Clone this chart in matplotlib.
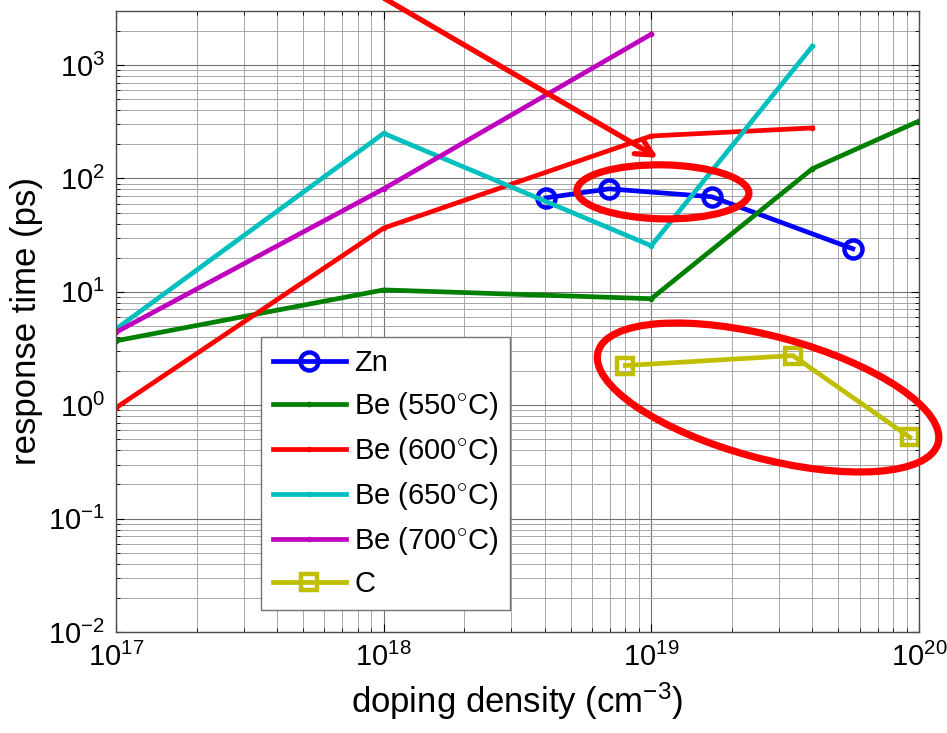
import numpy as np
import matplotlib
matplotlib.use('Agg')
import matplotlib.pyplot as plt
from matplotlib.patches import Ellipse
from matplotlib.transforms import ScaledTranslation

plt.rcParams['font.family'] = ['Liberation Sans', 'DejaVu Sans']
plt.rcParams['mathtext.fontset'] = 'custom'
plt.rcParams['mathtext.rm'] = 'Liberation Sans'
plt.rcParams['mathtext.it'] = 'Liberation Sans:italic'
plt.rcParams['mathtext.bf'] = 'Liberation Sans:bold'

# response time vs doping density for each dopant / growth temperature
zn_x = [4.04e18, 6.95e18, 1.68e19, 5.66e19]
zn_y = [67.5, 81, 69, 24]

be550_x = [1e17, 1e18, 1e19, 4e19, 1e20]
be550_y = [3.7, 10.4, 8.7, 122, 321]

be600_x = [1e17, 1e18, 1e19, 4e19]
be600_y = [0.95, 36.5, 237, 279]

be650_x = [1e17, 1e18, 1e19, 4e19]
be650_y = [4.7, 250, 25.5, 1470]

be700_x = [1e17, 1e18, 1e19]
be700_y = [4.4, 81, 1875]

c_x = [8.0e18, 3.38e19, 9.25e19]
c_y = [2.24, 2.74, 0.52]

fig = plt.figure(figsize=(9.47, 7.33), dpi=100)
ax = fig.add_axes([0.1225, 0.1378, 0.8479, 0.8472])

lw = 3.4
ax.plot(zn_x, zn_y, ls='-', marker='o', color=(0, 0, 1), lw=lw, ms=13, mew=3.2, mfc='none', label='Zn')
ax.plot(be550_x, be550_y, ls='-', marker='.', color=(0, 0.5, 0), lw=lw, ms=6, label='Be (550$^{\\circ}$C)')
ax.plot(be600_x, be600_y, ls='-', marker='.', color=(1, 0, 0), lw=lw, ms=6, label='Be (600$^{\\circ}$C)')
ax.plot(be650_x, be650_y, ls='-', marker='.', color=(0, 0.75, 0.75), lw=lw, ms=6, label='Be (650$^{\\circ}$C)')
ax.plot(be700_x, be700_y, ls='-', marker='.', color=(0.75, 0, 0.75), lw=lw, ms=6, label='Be (700$^{\\circ}$C)')
ax.plot(c_x, c_y, ls='-', marker='s', color=(0.75, 0.75, 0), lw=lw, ms=11, mew=3.2, mfc='none', label='C')

ax.set_xscale('log')
ax.set_yscale('log')
ax.set_xlim(1e17, 1e20)
ax.set_ylim(1e-2, 3e3)
ax.set_yticks([1e-2, 1e-1, 1e0, 1e1, 1e2, 1e3])

ax.grid(True, which='major', color='0.45', lw=0.8)
ax.grid(True, which='minor', color='0.65', lw=0.7)
ax.tick_params(which='both', direction='in', top=True, right=True, labelsize=21, pad=8)
ax.tick_params(which='major', length=6)
ax.tick_params(which='minor', length=3)
for s in ax.spines.values():
    s.set_color('0.3')
    s.set_linewidth(1.0)

ax.set_xlabel('doping density (cm$^{-3}$)', fontsize=25, labelpad=6)
ax.set_ylabel('response time (ps)', fontsize=25, labelpad=4)

leg = ax.legend(loc='lower left', bbox_to_anchor=(0.1806, 0.0354), borderaxespad=0,
                fontsize=21, framealpha=1, fancybox=False, edgecolor='0.45',
                handlelength=2.5, labelspacing=0.45, borderpad=0.4, handletextpad=0.3)
leg.get_frame().set_linewidth(1.0)

# highlight rings and arrow, sized in inches around a data-space centre
def ring(cx, cy, w, h, angle):
    tr = fig.dpi_scale_trans + ScaledTranslation(cx, cy, ax.transData)
    e = Ellipse((0, 0), w, h, angle=angle, fill=False, edgecolor='red', lw=5.2,
                transform=tr, clip_on=False, zorder=5)
    ax.add_patch(e)

ring(1.105e19, 76.2, 1.72, 0.54, -1)
ring(2.73e19, 1.17, 3.52, 1.22, -15)

ax.annotate('', xy=(1.059e19, 152), xycoords='data',
            xytext=(0.3907, 1.0136), textcoords='figure fraction',
            arrowprops=dict(arrowstyle='->', color='red', lw=3.8,
                            mutation_scale=30, shrinkA=0, shrinkB=0),
            annotation_clip=False, zorder=6)

fig.savefig('out.png', dpi=100)
